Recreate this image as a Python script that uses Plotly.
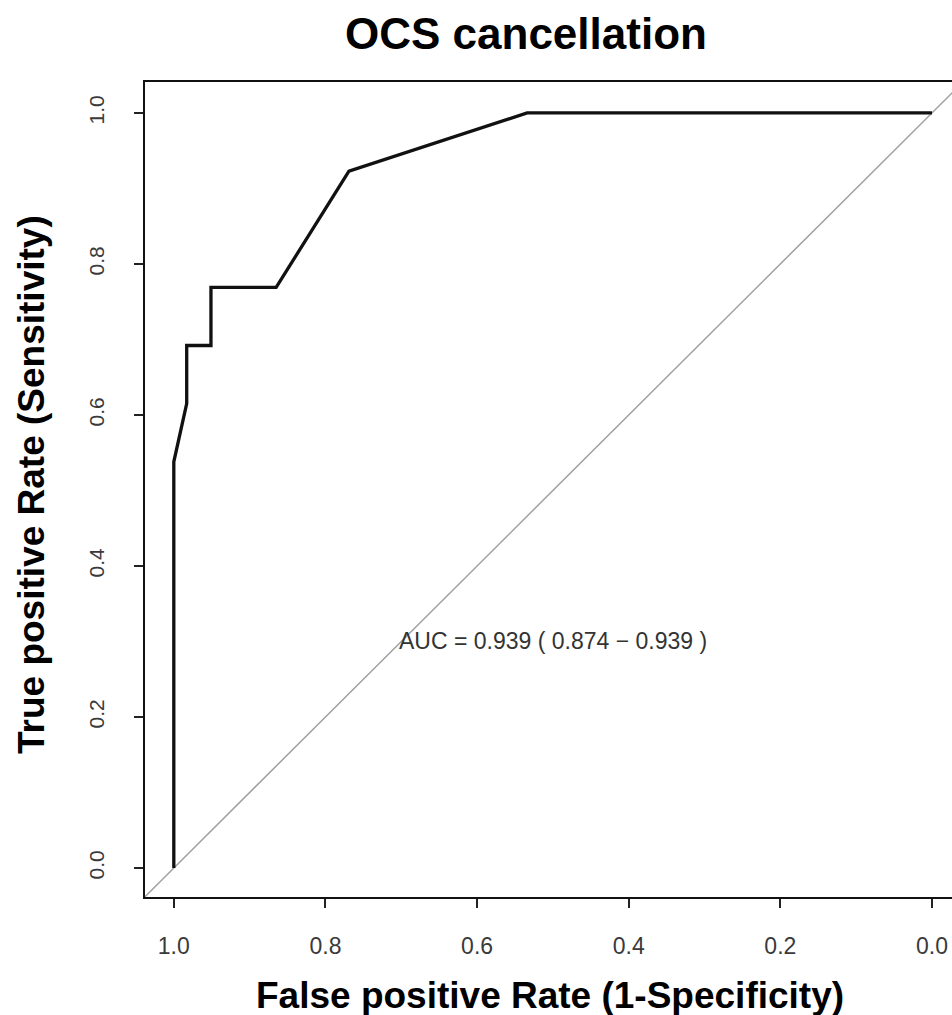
import plotly.graph_objects as go

# ROC curve (pROC style: x = specificity, reversed axis)
specificity = [1.0, 1.0, 0.983, 0.983, 0.951, 0.951, 0.865, 0.769, 0.534, 0.0]
sensitivity = [0.0, 0.538, 0.615, 0.692, 0.692, 0.769, 0.769, 0.923, 1.0, 1.0]

# chance line (sensitivity = 1 - specificity), spanning the whole panel
diag_x = [1.1, -0.1]
diag_y = [-0.1, 1.1]

tick_vals = [0.0, 0.2, 0.4, 0.6, 0.8, 1.0]
tick_text = ["0.0", "0.2", "0.4", "0.6", "0.8", "1.0"]

title_text = "<b>OCS cancellation</b>"
x_title = "<b>False positive Rate (1-Specificity)</b>"
y_title = "<b>True positive Rate (Sensitivity)</b>"
auc_text = "AUC = 0.939 ( 0.874 \u2212 0.939 )"
auc_pos = (0.5, 0.3)

W, H = 952, 1015
ML, MR, MT, MB = 145, 0, 82, 118
FONT = "Liberation Sans, Arial, sans-serif"

fig = go.Figure()
fig.add_trace(go.Scatter(x=diag_x, y=diag_y, mode="lines",
                         line=dict(color="#a0a0a0", width=1.5),
                         hoverinfo="skip", showlegend=False))
fig.add_trace(go.Scatter(x=specificity, y=sensitivity, mode="lines",
                         line=dict(color="#111111", width=3.3),
                         showlegend=False))

def px2paper_x(px):
    return (px - ML) / (W - ML - MR)

def px2paper_y(py):
    return (H - MB - py) / (H - MT - MB)

annotations = [
    dict(text=auc_text, x=auc_pos[0], y=auc_pos[1], xref="x", yref="y",
         showarrow=False, xanchor="center", yanchor="middle",
         font=dict(family=FONT, size=23, color="#333333")),
    dict(text=title_text, x=px2paper_x(526), y=px2paper_y(34), xref="paper", yref="paper",
         showarrow=False, xanchor="center", yanchor="middle",
         font=dict(family=FONT, size=44, color="#000000")),
    dict(text=x_title, x=px2paper_x(550), y=px2paper_y(995), xref="paper", yref="paper",
         showarrow=False, xanchor="center", yanchor="middle",
         font=dict(family=FONT, size=37, color="#000000")),
    dict(text=y_title, x=px2paper_x(31), y=px2paper_y(485), xref="paper", yref="paper",
         showarrow=False, xanchor="center", yanchor="middle", textangle=-90,
         font=dict(family=FONT, size=37, color="#000000")),
]

fig.update_layout(
    width=W, height=H,
    margin=dict(l=ML, r=MR, t=MT, b=MB, pad=0),
    paper_bgcolor="white", plot_bgcolor="white",
    showlegend=False,
    annotations=annotations,
    font=dict(family=FONT),
    xaxis=dict(range=[1.038, -0.0264], tickvals=tick_vals, ticktext=tick_text,
               showgrid=False, zeroline=False, showline=True, linecolor="#111111",
               linewidth=2, mirror=True, ticks="outside", ticklen=9, tickwidth=2,
               tickcolor="#222222", ticklabelstandoff=18,
               tickfont=dict(family=FONT, size=23, color="#3a3a3a")),
    yaxis=dict(range=[-0.0384, 1.041], tickvals=tick_vals, ticktext=tick_text,
               showgrid=False, zeroline=False, showline=True, linecolor="#111111",
               linewidth=2, mirror=False, ticks="outside", ticklen=9, tickwidth=2,
               tickcolor="#222222", tickangle=-90, ticklabelstandoff=22,
               tickfont=dict(family=FONT, size=21, color="#3a3a3a")),
)

fig.write_html("out.html")
